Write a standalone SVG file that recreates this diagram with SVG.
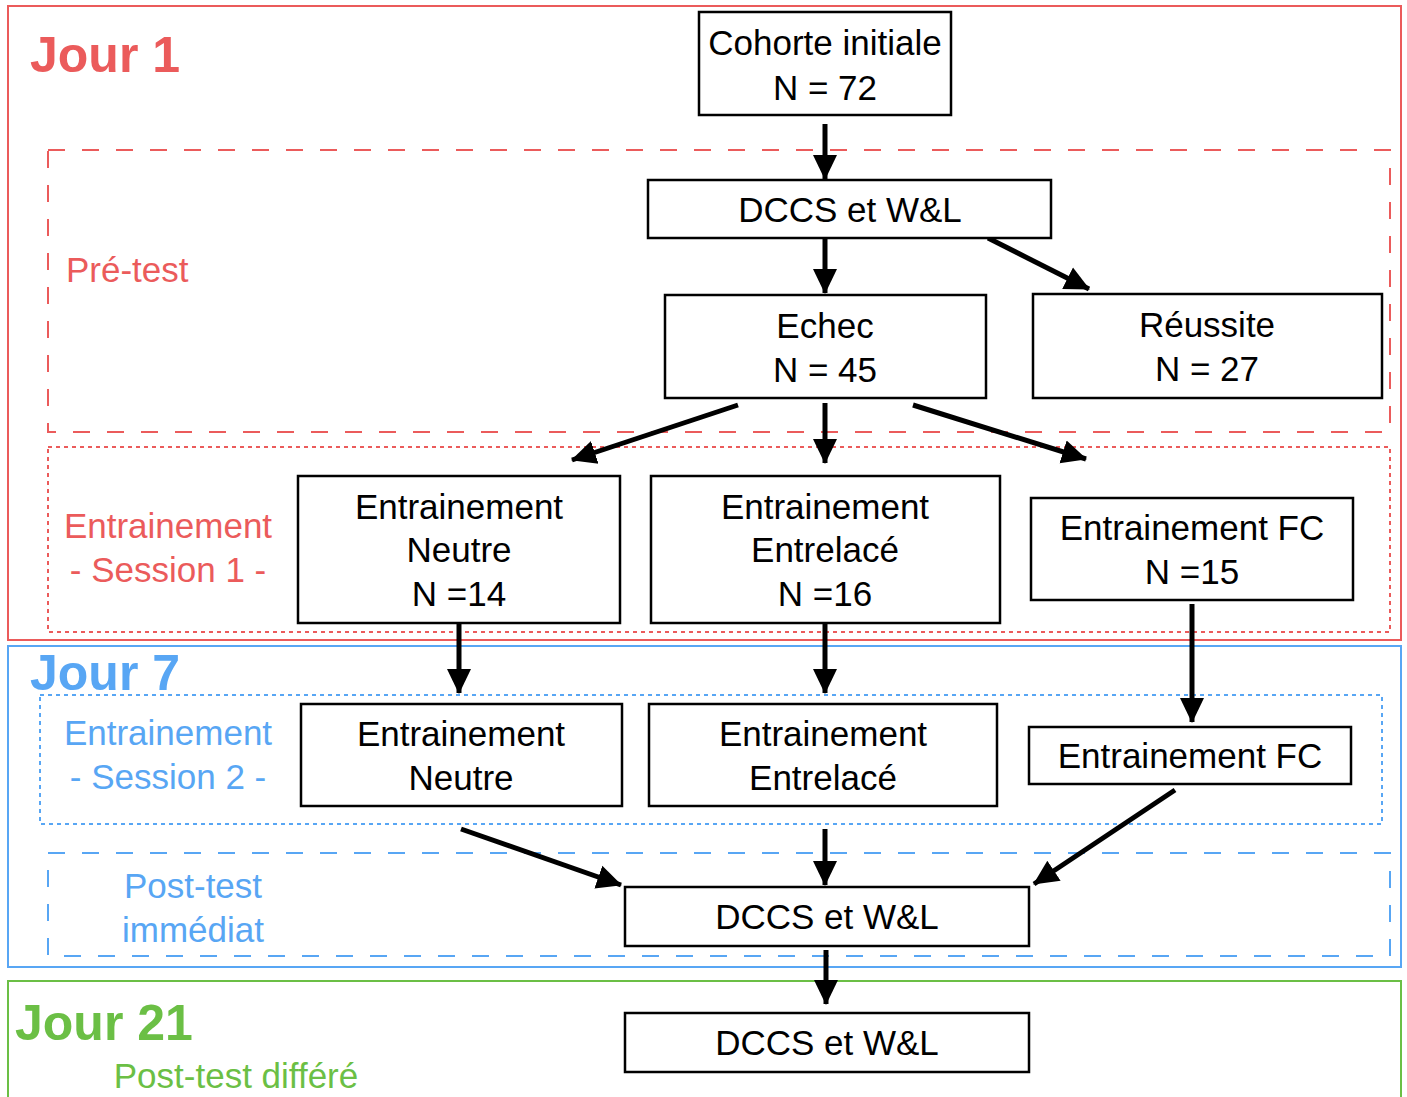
<svg xmlns="http://www.w3.org/2000/svg" width="1407" height="1097" viewBox="0 0 1407 1097">
<defs>
<marker id="ah" markerUnits="userSpaceOnUse" markerWidth="26" markerHeight="26" viewBox="0 0 26 26" refX="24" refY="13" orient="auto">
<path d="M0,1 L25,13 L0,25 Z" fill="#000"/>
</marker>
<style>
.node rect{fill:#fff;stroke:#000;stroke-width:2.5}
.node text{font-family:"Liberation Sans",Arial,sans-serif;font-size:35px;fill:#000;text-anchor:middle}
.lbl{font-family:"Liberation Sans",Arial,sans-serif;font-size:35px}
.big{font-family:"Liberation Sans",Arial,sans-serif;font-size:50px;font-weight:bold}
.red{fill:#EB5B5B}.blue{fill:#58A6F4}.green{fill:#6BBF45}
.conn line{stroke:#000;stroke-width:5;marker-end:url(#ah)}
</style>
</defs>
<g id="frames" fill="none" stroke-width="2">
<rect x="8" y="6" width="1393" height="634" stroke="#EB5B5B"/>
<rect x="48" y="150" width="1342" height="282" stroke="#EB5B5B" stroke-dasharray="17 17"/>
<rect x="48" y="447" width="1342" height="185" stroke="#EB5B5B" stroke-dasharray="4 4"/>
<rect x="8" y="646" width="1393" height="321" stroke="#58A6F4"/>
<rect x="40" y="695" width="1342" height="129" stroke="#58A6F4" stroke-dasharray="4 4"/>
<rect x="48" y="853" width="1342" height="103" stroke="#58A6F4" stroke-dasharray="17 17"/>
<rect x="8" y="981" width="1393" height="130" stroke="#6BBF45"/>
</g>
<g id="labels">
<text class="big red" x="30" y="72">Jour 1</text>
<text class="lbl red" x="66" y="282">Pré-test</text>
<text class="lbl red" x="168" y="538" text-anchor="middle">Entrainement</text>
<text class="lbl red" x="168" y="582" text-anchor="middle">- Session 1 -</text>
<text class="big blue" x="30" y="690">Jour 7</text>
<text class="lbl blue" x="168" y="745" text-anchor="middle">Entrainement</text>
<text class="lbl blue" x="168" y="789" text-anchor="middle">- Session 2 -</text>
<text class="lbl blue" x="193" y="898" text-anchor="middle">Post-test</text>
<text class="lbl blue" x="193" y="942" text-anchor="middle">immédiat</text>
<text class="big green" x="15" y="1040">Jour 21</text>
<text class="lbl green" x="236" y="1088" text-anchor="middle">Post-test différé</text>
</g>
<g id="connectors" class="conn">
<line x1="825" y1="124" x2="825" y2="179"/>
<line x1="825" y1="239" x2="825" y2="293"/>
<line x1="988" y1="238" x2="1089" y2="289"/>
<line x1="738" y1="405" x2="572" y2="460"/>
<line x1="825" y1="403" x2="825" y2="463"/>
<line x1="913" y1="405" x2="1086" y2="459"/>
<line x1="459" y1="623" x2="459" y2="693"/>
<line x1="825" y1="623" x2="825" y2="693"/>
<line x1="1192" y1="604" x2="1192" y2="722"/>
<line x1="461" y1="829" x2="621" y2="885"/>
<line x1="825" y1="829" x2="825" y2="885"/>
<line x1="1175" y1="790" x2="1034" y2="884"/>
<line x1="826" y1="950" x2="826" y2="1004"/>
</g>
<g id="n-cohorte" class="node"><rect x="699" y="12" width="252" height="103"/><text x="825" y="55">Cohorte initiale</text><text x="825" y="100">N = 72</text></g>
<g id="n-dccs1" class="node"><rect x="648" y="180" width="403" height="58"/><text x="850" y="222">DCCS et W&amp;L</text></g>
<g id="n-echec" class="node"><rect x="665" y="295" width="321" height="103"/><text x="825" y="338">Echec</text><text x="825" y="382">N = 45</text></g>
<g id="n-reussite" class="node"><rect x="1033" y="294" width="349" height="104"/><text x="1207" y="337">Réussite</text><text x="1207" y="381">N = 27</text></g>
<g id="n-neutre1" class="node"><rect x="298" y="476" width="322" height="147"/><text x="459" y="519">Entrainement</text><text x="459" y="562">Neutre</text><text x="459" y="606">N =14</text></g>
<g id="n-entrelace1" class="node"><rect x="651" y="476" width="349" height="147"/><text x="825" y="519">Entrainement</text><text x="825" y="562">Entrelacé</text><text x="825" y="606">N =16</text></g>
<g id="n-fc1" class="node"><rect x="1031" y="498" width="322" height="102"/><text x="1192" y="540">Entrainement FC</text><text x="1192" y="584">N =15</text></g>
<g id="n-neutre2" class="node"><rect x="301" y="704" width="321" height="102"/><text x="461" y="746">Entrainement</text><text x="461" y="790">Neutre</text></g>
<g id="n-entrelace2" class="node"><rect x="649" y="704" width="348" height="102"/><text x="823" y="746">Entrainement</text><text x="823" y="790">Entrelacé</text></g>
<g id="n-fc2" class="node"><rect x="1029" y="727" width="322" height="57"/><text x="1190" y="768">Entrainement FC</text></g>
<g id="n-dccs2" class="node"><rect x="625" y="887" width="404" height="59"/><text x="827" y="929">DCCS et W&amp;L</text></g>
<g id="n-dccs3" class="node"><rect x="625" y="1013" width="404" height="59"/><text x="827" y="1055">DCCS et W&amp;L</text></g>
</svg>
